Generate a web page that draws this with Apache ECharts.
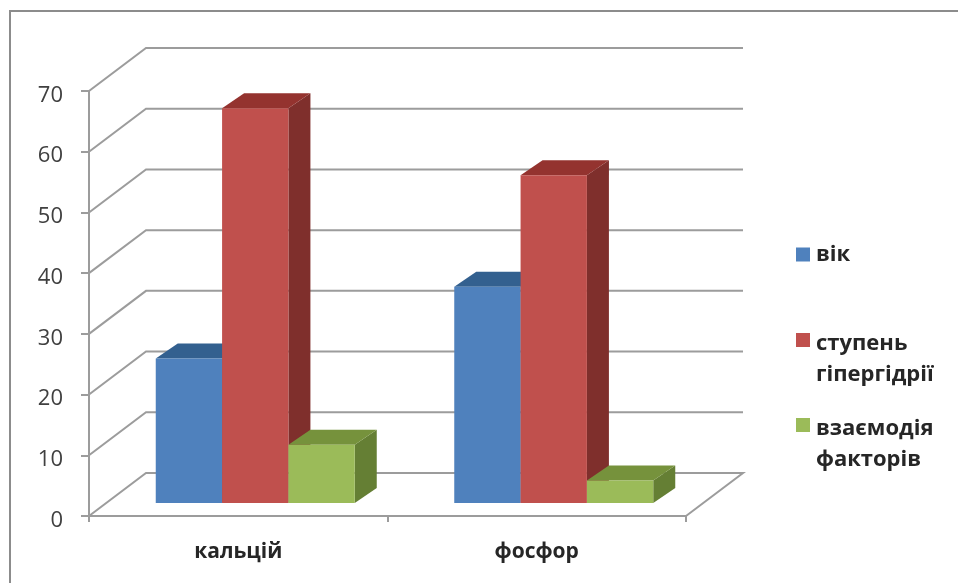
<!DOCTYPE html>
<html><head><meta charset="utf-8">
<style>html,body{margin:0;padding:0;background:#fff}#c{width:958px;height:583px}</style>
<script src="https://cdn.jsdelivr.net/npm/echarts@6/dist/echarts.min.js"></script>
</head><body><div id="c"></div>
<script>
const categories = ['кальцій', 'фосфор'];
const vik = [23.8, 35.6];
const stupin = [65, 54];
const vzaiemodia = [9.6, 3.7];
const yTicks = [0, 10, 20, 30, 40, 50, 60, 70];
const seriesNames = ['вік', 'ступень гіпергідрії', 'взаємодія факторів'];

const WALL = [57, -43], BAR_DEPTH = [22, -15], BAR_SHIFT = [17, -13];
const FACE = ['#4F81BD', '#C0504D', '#9BBB59'];
const TOP = ['#33608F', '#94332F', '#76923C'];
const SIDE = ['#2E5A8E', '#7F2F2C', '#657F34'];
const GRID = '#9c9c9c';
const FONT = '"Open Sans", sans-serif';

function wall(params, api) {
  const p = api.coord([0, api.value(1)]);
  const bw = api.size([1, 0])[0];
  const x0 = p[0] - bw / 2, x1 = x0 + categories.length * bw, y = p[1];
  const pts = [[x0, y], [x0 + WALL[0], y + WALL[1]], [x1 + WALL[0], y + WALL[1]]];
  if (api.value(1) === 0) pts.push([x1, y]);
  return { type: 'polyline', shape: { points: pts }, style: { fill: null, stroke: GRID, lineWidth: 2 } };
}
function bar(i) {
  return function (params, api) {
    const c = api.value(0);
    const top = api.coord([c, api.value(1)]);
    const base = api.coord([c, 0]);
    const bw = api.size([1, 0])[0], w = bw / 4.5;
    const x0 = top[0] - 1.5 * w + i * w + BAR_SHIFT[0], x1 = x0 + w;
    const yt = top[1] + BAR_SHIFT[1], yb = base[1] + BAR_SHIFT[1];
    const dx = BAR_DEPTH[0], dy = BAR_DEPTH[1];
    const poly = (points, fill) => ({ type: 'polygon', shape: { points }, style: { fill } });
    return { type: 'group', children: [
      poly([[x1, yt], [x1 + dx, yt + dy], [x1 + dx, yb + dy], [x1, yb]], SIDE[i]),
      poly([[x0, yt], [x0 + dx, yt + dy], [x1 + dx, yt + dy], [x1, yt]], TOP[i]),
      poly([[x0, yt], [x1, yt], [x1, yb], [x0, yb]], FACE[i])
    ] };
  };
}
const barSeries = [vik, stupin, vzaiemodia].map((vals, i) => ({
  type: 'custom', name: seriesNames[i], z: 5 + i,
  renderItem: bar(i),
  itemStyle: { color: FACE[i] },
  encode: { x: 0, y: 1 },
  data: vals.map((v, k) => [k, v])
}));
const legendText = {
  fontFamily: FONT, fontWeight: 'bold', fontSize: 22, color: '#262626', lineHeight: 31, padding: [0, 0, 0, 1]
};
const tallIcon = 'path://M0 0L0.01 0ZM0 5H14V19H0ZM0 62L0.01 62Z';
function legendBox(name, top, tall) {
  return {
    data: [tall ? { name, icon: tallIcon } : { name, icon: 'rect' }],
    left: 796, top, orient: 'vertical', selectedMode: false, padding: 0,
    itemWidth: 14, itemHeight: tall ? 62 : 14, itemGap: 0,
    textStyle: legendText,
    formatter: n => n.replace(' ', '\n')
  };
}
const chart = echarts.init(document.getElementById('c'));
chart.setOption({
  animation: false,
  backgroundColor: '#fff',
  grid: { left: 89, right: 272, top: 91, bottom: 67 },
  legend: [
    legendBox(seriesNames[0], 239, false),
    legendBox(seriesNames[1], 328, true),
    legendBox(seriesNames[2], 413, true)
  ],
  xAxis: {
    type: 'category', data: categories,
    axisLine: { lineStyle: { color: GRID, width: 2 } },
    axisTick: { show: true, length: 6, alignWithLabel: false, lineStyle: { color: GRID, width: 2 } },
    axisLabel: { margin: 26, fontFamily: FONT, fontWeight: 'bold', fontSize: 21, color: '#262626' }
  },
  yAxis: {
    type: 'value', min: 0, max: 70, interval: 10,
    axisLine: { show: true, lineStyle: { color: GRID, width: 2 } },
    axisTick: { show: true, length: 8, lineStyle: { color: GRID, width: 2 } },
    splitLine: { show: false },
    axisLabel: { margin: 26, fontFamily: FONT, fontSize: 22, color: '#404040', verticalAlign: 'top', lineHeight: 9 }
  },
  graphic: [{
    type: 'rect', silent: true, z: -1,
    shape: { x: 10, y: 11, width: 960, height: 600 },
    style: { fill: 'none', stroke: '#8c8c8c', lineWidth: 2 }
  }],
  series: [{
    type: 'custom', name: 'grid', z: 1, renderItem: wall, silent: true,
    encode: { x: 0, y: 1 },
    data: yTicks.map(t => [0, t])
  }].concat(barSeries)
});
</script></body></html>
